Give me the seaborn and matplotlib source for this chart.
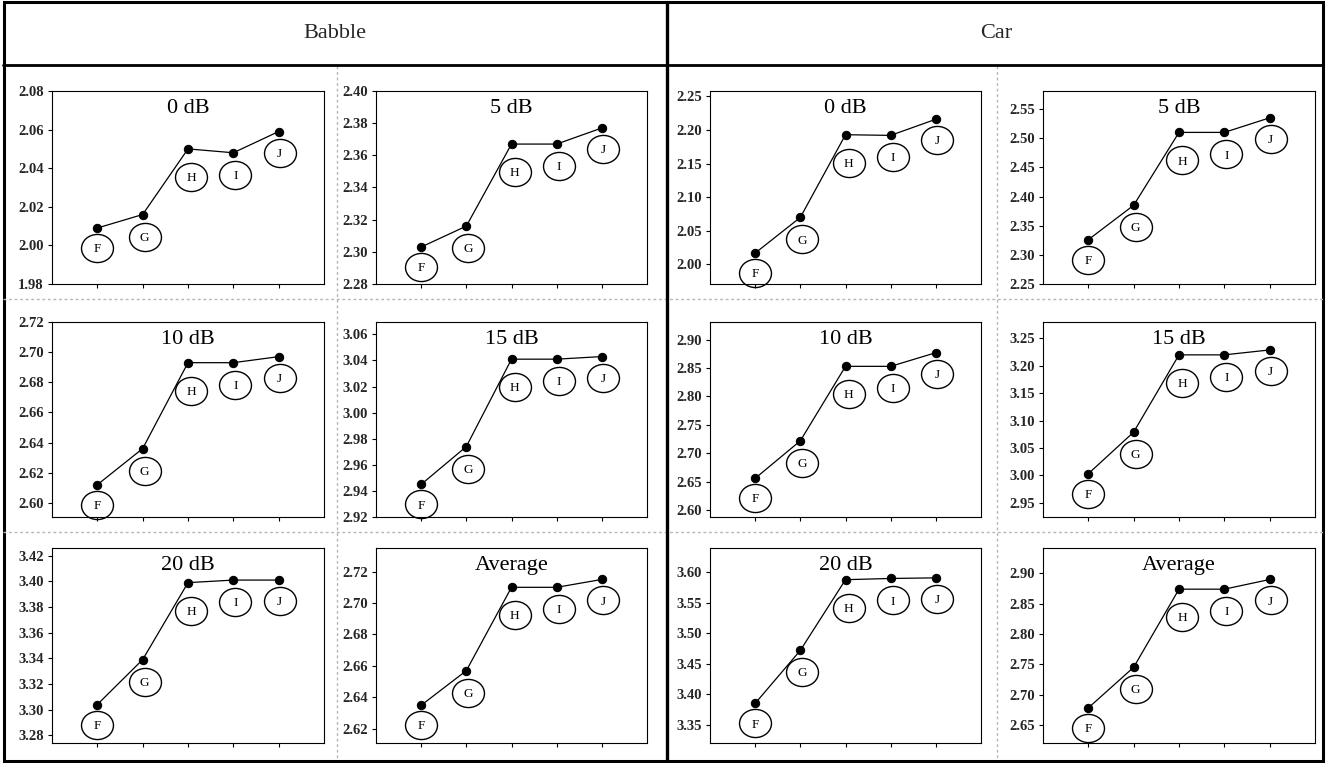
import numpy as np
import pandas as pd
import matplotlib
matplotlib.use("Agg")
import matplotlib.pyplot as plt
import seaborn as sns
from matplotlib.path import Path
from matplotlib.transforms import Affine2D, ScaledTranslation
from matplotlib.lines import Line2D
from matplotlib.patches import Rectangle

# ---------------- data ----------------
categories = ["F", "G", "H", "I", "J"]
noise_types = ["Babble", "Car"]
snr_titles = ["0 dB", "5 dB", "10 dB", "15 dB", "20 dB", "Average"]

babble_0 = [2.009, 2.016, 2.050, 2.048, 2.059]
babble_5 = [2.303, 2.316, 2.367, 2.367, 2.377]
babble_10 = [2.612, 2.636, 2.693, 2.693, 2.697]
babble_15 = [2.945, 2.974, 3.041, 3.041, 3.043]
babble_20 = [3.304, 3.339, 3.399, 3.401, 3.401]
babble_avg = [2.635, 2.657, 2.710, 2.710, 2.715]

car_0 = [2.017, 2.070, 2.193, 2.192, 2.216]
car_5 = [2.326, 2.385, 2.510, 2.510, 2.535]
car_10 = [2.656, 2.722, 2.853, 2.853, 2.877]
car_15 = [3.003, 3.079, 3.220, 3.220, 3.229]
car_20 = [3.385, 3.472, 3.588, 3.590, 3.591]
car_avg = [2.678, 2.745, 2.874, 2.874, 2.890]

babble_series = [babble_0, babble_5, babble_10, babble_15, babble_20, babble_avg]
car_series = [car_0, car_5, car_10, car_15, car_20, car_avg]

# ---------------- style / layout ----------------
sns.set_theme(style="white")
plt.rcParams["font.family"] = ["Liberation Serif", "DejaVu Serif"]

W, H = 1326, 763
DPI = 100
fig = plt.figure(figsize=(W / DPI, H / DPI), dpi=DPI)
fig.patch.set_facecolor("white")

babble_lims = [(1.98, 2.08), (2.28, 2.40), (2.5906, 2.72), (2.92, 3.0695), (3.274, 3.426), (2.611, 2.735)]
car_lims = [(1.971, 2.258), (2.25, 2.581), (2.588, 2.931), (2.924, 3.280), (3.320, 3.640), (2.620, 2.942)]

col_left = [52, 376, 710, 1043]
col_right = [324, 647, 981, 1315]
row_top = [91, 322, 548]
row_bot = [284, 517, 743]

lab_dx = [0, 2, 3, 2, 1]
lab_dy = [20, 22, 28, 22, 21]

ellipse_marker = Path.unit_circle().transformed(Affine2D().scale(1.0, 0.88))


def draw_panel(ax, values, title, lims, step):
    df = pd.DataFrame({"cat": categories, "val": values})
    sns.lineplot(data=df, x="cat", y="val", ax=ax, color="black", lw=0.9,
                 marker="o", markersize=6, markeredgecolor="black",
                 markerfacecolor="black", sort=False)
    for i, (c, v) in enumerate(zip(categories, values)):
        off = ScaledTranslation(lab_dx[i] / DPI, -lab_dy[i] / DPI, fig.dpi_scale_trans)
        ax.plot([i], [v], ls="none", marker=ellipse_marker, markersize=23,
                mfc="none", mec="black", mew=1.0, transform=ax.transData + off,
                clip_on=False)
        ax.annotate(c, (i, v), xytext=(lab_dx[i] * 0.72, -lab_dy[i] * 0.72 - 0.8),
                    textcoords="offset points", ha="center", va="center",
                    fontsize=9.5, color="black")
    ax.set_xlim(-1, 5)
    ax.set_ylim(*lims)
    start = np.ceil(lims[0] / step - 1e-6) * step
    ticks = np.arange(start, lims[1] + 1e-9, step)
    ax.set_yticks(ticks)
    ax.set_yticklabels([f"{t:.2f}" for t in ticks], fontweight="bold", fontsize=10.5)
    ax.set_xticks(range(len(categories)))
    ax.set_xticklabels([])
    ax.set_xlabel("")
    ax.set_ylabel("")
    ax.tick_params(axis="both", direction="out", length=3, width=0.8,
                   color="black", pad=3, left=True, bottom=True)
    for s in ax.spines.values():
        s.set_visible(True)
        s.set_color("black")
        s.set_linewidth(0.8)
    ax.text(0.5, 0.91, title, transform=ax.transAxes, ha="center", va="center",
            fontsize=16, color="black")


for r in range(3):
    for k, (series, lims, step) in enumerate([(babble_series, babble_lims, 0.02),
                                             (car_series, car_lims, 0.05)]):
        for j in range(2):
            idx = r * 2 + j
            c = k * 2 + j
            l, rr = col_left[c], col_right[c]
            t, b = row_top[r], row_bot[r]
            ax = fig.add_axes([l / W, 1 - b / H, (rr - l) / W, (b - t) / H])
            draw_panel(ax, series[idx], snr_titles[idx], lims[idx], step)


def fx(x):
    return x / W


def fy(y):
    return 1 - y / H


dash_kw = dict(color="#b5b5b5", lw=1.0, ls=(0, (2, 2)), transform=fig.transFigure)
for x in [337, 997]:
    fig.add_artist(Line2D([fx(x), fx(x)], [fy(66), fy(760)], **dash_kw))
for y in [299, 532]:
    fig.add_artist(Line2D([fx(3), fx(1323)], [fy(y), fy(y)], **dash_kw))

fig.add_artist(Rectangle((fx(3.5), fy(760.5)), fx(1322.5) - fx(3.5), fy(2.5) - fy(760.5),
                         fill=False, ec="black", lw=2.2, transform=fig.transFigure))
fig.add_artist(Line2D([fx(3), fx(1323)], [fy(65), fy(65)], color="black", lw=2.0,
                      transform=fig.transFigure))
fig.add_artist(Line2D([fx(667), fx(667)], [fy(2), fy(761)], color="black", lw=2.4,
                      transform=fig.transFigure))

fig.text(fx(335), fy(33), noise_types[0], ha="center", va="center", fontsize=16)
fig.text(fx(996), fy(33), noise_types[1], ha="center", va="center", fontsize=16)

fig.savefig("out.png", dpi=DPI, facecolor="white")
